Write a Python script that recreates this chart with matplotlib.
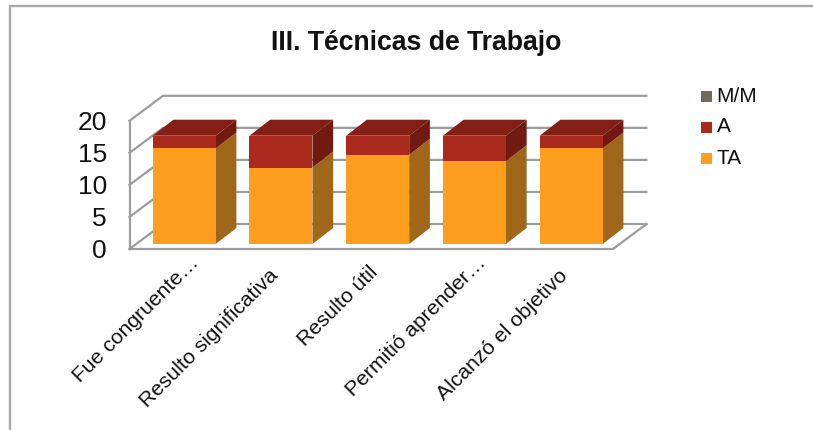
import matplotlib
matplotlib.use("Agg")
import matplotlib.pyplot as plt
from matplotlib.patches import Polygon, Rectangle

plt.rcParams['font.family'] = ['Liberation Sans', 'DejaVu Sans']

title = "III. Técnicas de Trabajo"
categories = ["Fue congruente…", "Resulto significativa", "Resulto útil", "Permitió aprender…", "Alcanzó el objetivo"]
ta = [15, 12, 14, 13, 15]
a = [2, 5, 3, 4, 2]
mm = [0, 0, 0, 0, 0]
yticks = [0, 5, 10, 15, 20]
legend_labels = ["M/M", "A", "TA"]

C_TA, C_TA_SIDE = "#FF9D1E", "#A0671A"
C_A, C_A_SIDE, C_A_TOP = "#A92A1C", "#701A12", "#831F14"
C_MM = "#716A5C"
C_GRID = "#9C9C9C"

W, H = 813, 430
PX_CAT, PX_UNIT = 96.75, 6.37
X0, Y0 = 184.2, 244.0

fig = plt.figure(figsize=(W / 100, H / 100), dpi=100, facecolor="white")
ax = fig.add_axes([0, 0, 1, 1])
ax.set_xlim((0 - X0) / PX_CAT, (W - X0) / PX_CAT)
ax.set_ylim((Y0 - H) / PX_UNIT, Y0 / PX_UNIT)
ax.axis("off")

def dx(px):
    return px / PX_CAT
def dy(px):
    return px / PX_UNIT
def X(px):
    return (px - X0) / PX_CAT
def Y(py):
    return (Y0 - py) / PX_UNIT

BAR_W = 63 / PX_CAT
BAR_DX, BAR_DY = dx(20.7), dy(16)
fx0, fx1 = X(129.5), X(613)
fy0 = Y(249)
FR_DX, FR_DY = dx(33.5), dy(25)
unit = 6.41 / PX_UNIT

# chart border: left and top edges only
ax.plot([X(10.3), X(10.3), X(813)], [Y(430), Y(6), Y(6)], color="#A8A8A8", lw=1.7, zorder=0,
        solid_joinstyle="miter")

lw = 1.6
for v in yticks:
    y = fy0 + v * unit
    ax.plot([fx0, fx0 + FR_DX, fx1 + FR_DX], [y, y + FR_DY, y + FR_DY], color=C_GRID, lw=lw,
            zorder=1, solid_joinstyle="miter")
    ax.text(X(107), y, str(v), ha="right", va="center_baseline", fontsize=19, color="#111111")
ax.plot([fx0, fx0], [fy0, fy0 + 20 * unit], color=C_GRID, lw=lw, zorder=1)
ax.plot([fx0, fx1, fx1 + FR_DX], [fy0, fy0, fy0 + FR_DY], color=C_GRID, lw=lw, zorder=1,
        solid_joinstyle="miter")

for i in range(len(categories)):
    r = i + BAR_W / 2
    h1 = ta[i]
    h2 = ta[i] + a[i]
    ax.add_patch(Polygon([(r, 0), (r + BAR_DX, BAR_DY), (r + BAR_DX, h1 + BAR_DY), (r, h1)],
                         fc=C_TA_SIDE, ec="none", zorder=2))
    ax.add_patch(Polygon([(r, h1), (r + BAR_DX, h1 + BAR_DY), (r + BAR_DX, h2 + BAR_DY), (r, h2)],
                         fc=C_A_SIDE, ec="none", zorder=2))
    ax.add_patch(Polygon([(r - BAR_W, h2), (r, h2), (r + BAR_DX, h2 + BAR_DY), (r - BAR_W + BAR_DX, h2 + BAR_DY)],
                         fc=C_A_TOP, ec="none", zorder=2))

ax.bar(range(len(categories)), ta, width=BAR_W, color=C_TA, zorder=3)
ax.bar(range(len(categories)), a, width=BAR_W, bottom=ta, color=C_A, zorder=3)

label_dx = [5, -13, -10, 2, -13]
label_dy = [-9, -22, -19, -9, -22]
for i, c in enumerate(categories):
    ax.text(i + dx(label_dx[i]), dy(label_dy[i]), c, rotation=45, rotation_mode="anchor",
            ha="right", va="top", fontsize=15.2, color="#111111")

ax.text(X(416), Y(43), title, ha="center", va="center", fontsize=19.2,
        fontweight="bold", color="#111111")

for lab, col, py in zip(legend_labels, [C_MM, C_A, C_TA], [96, 127, 158.5]):
    ax.add_patch(Rectangle((X(701), Y(py + 5.5)), dx(11), dy(11), fc=col, ec="none"))
    ax.text(X(716.5), Y(py), lab, ha="left", va="center", fontsize=15, color="#111111")

fig.savefig("out.png", dpi=100, facecolor="white")
